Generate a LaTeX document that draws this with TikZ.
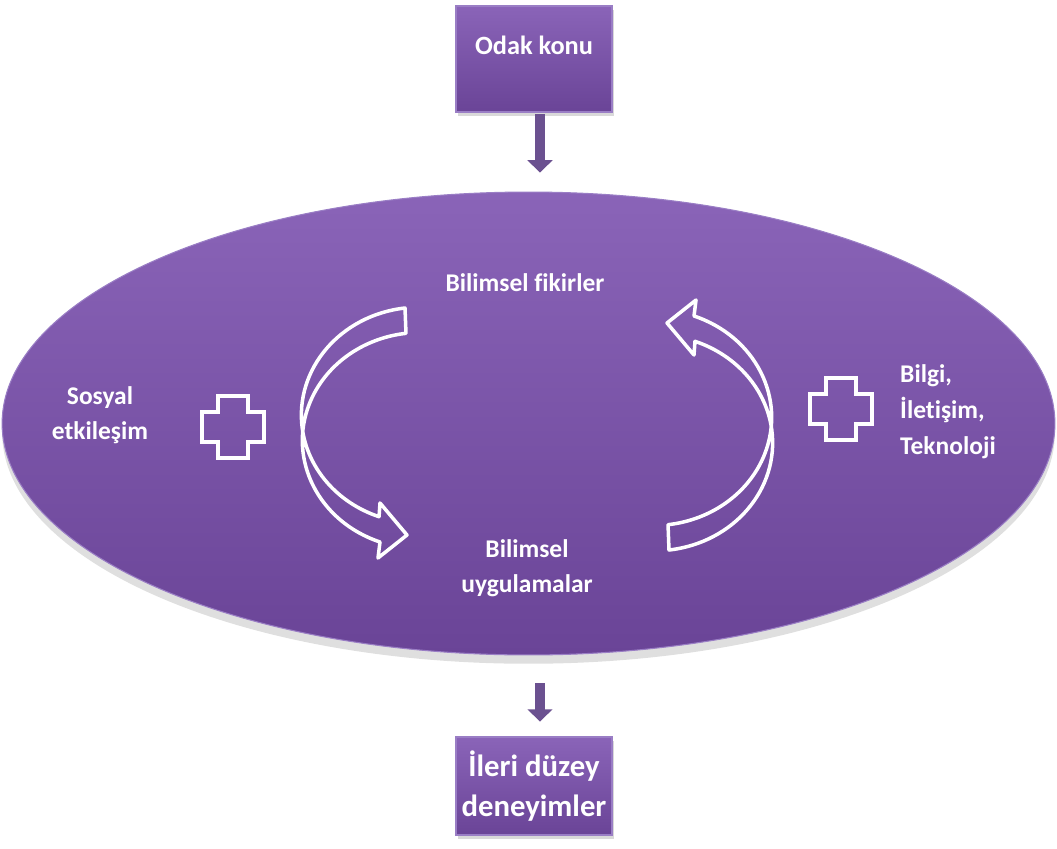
\documentclass[tikz,border=0pt]{standalone}
\usepackage{fontspec}
\setmainfont{Carlito}[Ligatures=NoCommon]
\usetikzlibrary{arrows.meta,shapes.geometric,shadows}

\definecolor{morust}{HTML}{8A64B8}
\definecolor{moralt}{HTML}{6A4497}
\definecolor{morkenar}{HTML}{9A7EC5}
\definecolor{okrengi}{HTML}{6B5190}

\begin{document}
\begin{tikzpicture}[x=0.02cm, y=-0.02cm,
    purplebox/.style={draw=morkenar, line width=0.6pt, top color=morust, bottom color=moralt,
      minimum width=3.12cm, inner sep=2pt, text=white, align=center,
      drop shadow={opacity=0.3, shadow xshift=1pt, shadow yshift=-2pt}},
    innertext/.style={text=white, align=center, font=\bfseries\fontsize{14.5}{20}\selectfont},
    downarrow/.style={draw=okrengi, line width=5.6pt, -{Triangle[width=14pt,length=7pt]},
      transform canvas={xshift=3.4pt}},
    bendarrow/.style={draw=white, line width=2pt, line join=round},
    plusmark/.style={draw=white, line width=2pt}]

  \useasboundingbox (0,0) rectangle (1057,848);

  % Draw the big ellipse
  \node[ellipse, draw=morkenar, line width=0.6pt, top color=morust, bottom color=moralt,
    minimum width=21.06cm, minimum height=9.26cm, inner sep=0pt,
    drop shadow={opacity=0.25, shadow xshift=0pt, shadow yshift=-5pt}] (loop) at (528.5,423.5) {};

  % Draw the two boxes
  \node[purplebox, minimum height=2.12cm, text height=10.5pt, text depth=16pt,
    font=\bfseries\fontsize{15}{21}\selectfont] (odak) at (534,59) {Odak konu};
  \node[purplebox, minimum height=1.96cm, font=\bfseries\fontsize{17.5}{22.7}\selectfont] (ileri) at (534,786) {İleri düzey\\deneyimler};

  % Draw arrows between boxes and ellipse
  \draw[downarrow, shorten <=1pt, shorten >=10.8pt] (odak.south) -- (odak.south |- loop.north);
  \draw[downarrow, shorten <=15.9pt, shorten >=8.5pt] (loop.south -| ileri.north) -- (ileri.north);

  % Labels inside the ellipse
  \node[innertext] (fikir) at (525,283) {Bilimsel fikirler};
  \node[innertext] (uygulama) at (527,568) {Bilimsel\\uygulamalar};
  \node[innertext] (sosyal) at (100,415) {Sosyal\\etkileşim};
  \node[innertext, align=left, anchor=west, font=\bfseries\fontsize{14.5}{20.5}\selectfont] (bilgi) at (894,412) {Bilgi,\\İletişim,\\Teknoloji};

  % Curved block arrows (second one is turned half round)
  \foreach \turn in {0,180}
  {
    \draw[bendarrow, rotate around={\turn:(537,429)}]
      (405,308) arc[start angle=263, end angle=110, x radius=118, y radius=108]
      -- (380,503) -- (407,535) -- (378,558) -- (380,542)
      arc[start angle=110, end angle=263, x radius=118, y radius=108] -- cycle;
  }

  % Plus signs
  \foreach \cx/\cy in {233/427, 841/409}
  {
    \draw[plusmark, shift={(\cx,\cy)}] (-15,-31) -- (15,-31) -- (15,-15) -- (31,-15) -- (31,15)
      -- (15,15) -- (15,31) -- (-15,31) -- (-15,15) -- (-31,15) -- (-31,-15) -- (-15,-15) -- cycle;
  }
\end{tikzpicture}
\end{document}
